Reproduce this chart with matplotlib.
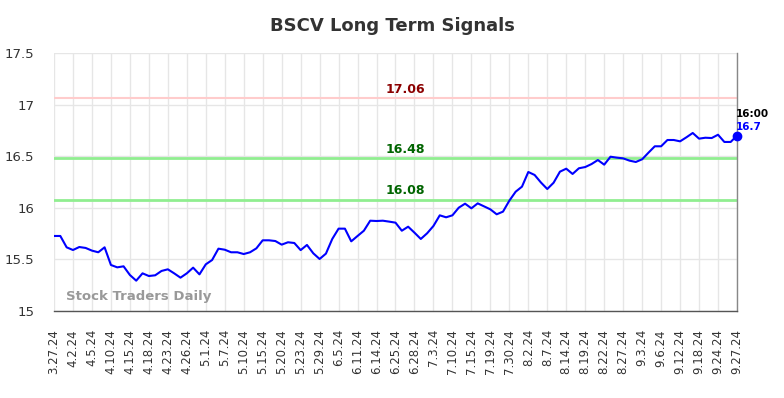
import matplotlib
matplotlib.use("Agg")
import matplotlib.pyplot as plt
import numpy as np

title = "BSCV Long Term Signals"
tick_labels = ["3.27.24", "4.2.24", "4.5.24", "4.10.24", "4.15.24", "4.18.24", "4.23.24",
               "4.26.24", "5.1.24", "5.7.24", "5.10.24", "5.15.24", "5.20.24", "5.23.24",
               "5.29.24", "6.5.24", "6.11.24", "6.14.24", "6.25.24", "6.28.24", "7.3.24",
               "7.10.24", "7.15.24", "7.19.24", "7.30.24", "8.2.24", "8.7.24", "8.14.24",
               "8.19.24", "8.22.24", "8.27.24", "9.3.24", "9.6.24", "9.12.24", "9.18.24",
               "9.24.24", "9.27.24"]
prices = [15.727, 15.727, 15.617, 15.591, 15.620, 15.611, 15.585, 15.569, 15.617, 15.446,
          15.423, 15.433, 15.349, 15.294, 15.365, 15.339, 15.346, 15.388, 15.404, 15.365,
          15.323, 15.365, 15.420, 15.355, 15.452, 15.494, 15.604, 15.594, 15.569, 15.569,
          15.552, 15.569, 15.607, 15.685, 15.685, 15.678, 15.643, 15.666, 15.659, 15.590,
          15.640, 15.559, 15.504, 15.556, 15.698, 15.798, 15.798, 15.675, 15.727, 15.778,
          15.875, 15.872, 15.875, 15.866, 15.856, 15.778, 15.817, 15.759, 15.698, 15.753,
          15.824, 15.927, 15.908, 15.927, 16.001, 16.040, 15.995, 16.043, 16.014, 15.985,
          15.937, 15.963, 16.069, 16.156, 16.205, 16.347, 16.318, 16.245, 16.182, 16.243,
          16.350, 16.379, 16.328, 16.383, 16.395, 16.424, 16.463, 16.418, 16.495, 16.486,
          16.479, 16.457, 16.444, 16.470, 16.534, 16.596, 16.596, 16.657, 16.657, 16.644,
          16.683, 16.725, 16.670, 16.679, 16.676, 16.708, 16.638, 16.638, 16.700]
resistance = [17.06]
supports = [16.48, 16.08]
last_time = "16:00"
last_label = "16.7"
y_ticks = [15, 15.5, 16, 16.5, 17, 17.5]
y_tick_labels = ["15", "15.5", "16", "16.5", "17", "17.5"]

fig = plt.figure(figsize=(7.84, 3.98), dpi=100)
ax = fig.add_axes([54/784, 1-311/398, (737-54)/784, (311-53)/398])

n = len(prices)
x = np.arange(n)
tick_pos = np.linspace(0, n - 1, len(tick_labels))

ax.set_xlim(0, n - 1)
ax.set_ylim(15, 17.5)
ax.set_yticks(y_ticks)
ax.set_yticklabels(y_tick_labels, fontsize=9.5, color="#333333")
ax.set_xticks(tick_pos)
ax.set_xticklabels(tick_labels, rotation=90, fontsize=8.5, color="#333333")
ax.tick_params(axis="both", length=0)
ax.tick_params(axis="x", pad=13)
ax.tick_params(axis="y", pad=14)
ax.grid(True, color="#e6e6e6", linewidth=1)
ax.set_axisbelow(True)
for s in ["top", "left"]:
    ax.spines[s].set_visible(False)
ax.spines["bottom"].set_color("#555555")
ax.spines["right"].set_color("#888888")
ax.spines["bottom"].set_linewidth(1)
ax.spines["right"].set_linewidth(1)

for r in resistance:
    ax.axhline(r, color="#ffcccc", linewidth=1.5, zorder=2)
    ax.text(0.514, r + 0.02, f"{r:.2f}", transform=ax.get_yaxis_transform(),
            ha="center", va="bottom", fontsize=9, fontweight="bold", color="#8b0000")
for s in supports:
    ax.axhline(s, color="#90ee90", linewidth=2, zorder=2)
    ax.text(0.514, s + 0.02, f"{s:.2f}", transform=ax.get_yaxis_transform(),
            ha="center", va="bottom", fontsize=9, fontweight="bold", color="#006400")

ax.plot(x, prices, color="#0000ff", linewidth=1.5, zorder=3)
ax.plot([x[-1]], [prices[-1]], "o", color="#0000ff", markersize=6, zorder=4, clip_on=False)
ax.annotate(last_time, (x[-1], prices[-1]), xytext=(-1, 22), textcoords="offset pixels",
            fontsize=7.5, fontweight="bold", color="#000000", ha="left", va="center")
ax.annotate(last_label, (x[-1], prices[-1]), xytext=(-1, 9), textcoords="offset pixels",
            fontsize=7.5, fontweight="bold", color="#0000ff", ha="left", va="center")

ax.text(0.018, 0.03, "Stock Traders Daily", transform=ax.transAxes, fontsize=9.5,
        fontweight="bold", color="#999999", ha="left", va="bottom")

fig.text(0.5, 1 - 26/398, title, ha="center", va="center", fontsize=13,
         fontweight="bold", color="#333333")

fig.savefig("out.png", dpi=100)
